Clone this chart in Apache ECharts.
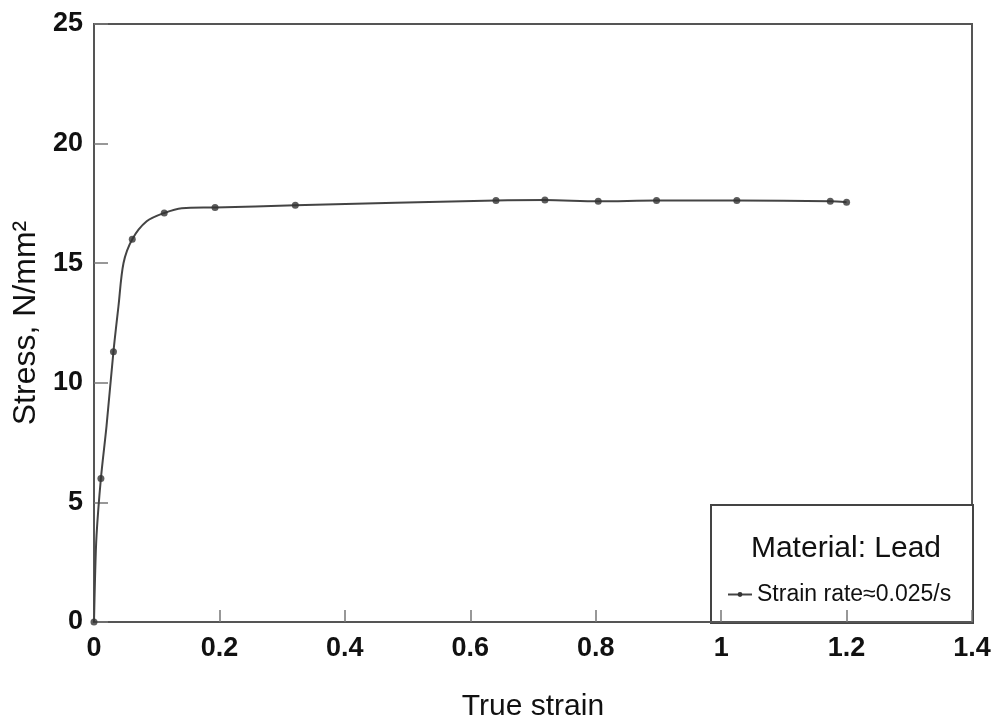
<!DOCTYPE html>
<html>
<head>
<meta charset="utf-8">
<script src="https://cdn.jsdelivr.net/npm/echarts@6/dist/echarts.min.js"></script>
<style>html,body{margin:0;padding:0;background:#fff}#c{width:997px;height:721px}</style>
</head>
<body>
<div id="c"></div>
<script>
// measured points (markers)
var markerStrain = [0, 0.011, 0.031, 0.061, 0.112, 0.193, 0.321, 0.641, 0.719, 0.804, 0.897, 1.025, 1.174, 1.200];
var markerStress = [0, 6.0, 11.3, 16.0, 17.1, 17.33, 17.42, 17.62, 17.64, 17.59, 17.62, 17.62, 17.59, 17.55];
// traced curve (line through the markers)
var curveStrain = [0, 0.0016, 0.004, 0.011, 0.020, 0.031, 0.039, 0.047, 0.061, 0.084, 0.112, 0.14, 0.193, 0.321, 0.641, 0.719, 0.804, 0.897, 1.025, 1.174, 1.200];
var curveStress = [0, 1.8, 3.6, 6.0, 8.2, 11.3, 13.2, 15.0, 16.0, 16.75, 17.1, 17.3, 17.33, 17.42, 17.62, 17.64, 17.59, 17.62, 17.62, 17.59, 17.55];
var xTicks = [0, 0.2, 0.4, 0.6, 0.8, 1, 1.2, 1.4];
var yTicks = [0, 5, 10, 15, 20, 25];
var seriesName = 'Strain rate\u22480.025/s';
var boxTitle = 'Material: Lead';

var chart = echarts.init(document.getElementById('c'), null, {renderer: 'canvas'});
var font = 'Liberation Sans, Arial, Helvetica, sans-serif';
chart.setOption({
  animation: false,
  backgroundColor: '#fff',
  grid: {left: 94, top: 24, right: 25, bottom: 99, show: true, borderColor: '#555', borderWidth: 2,
    outerBoundsMode: 'none', containLabel: false},
  xAxis: {
    type: 'value', min: xTicks[0], max: xTicks[xTicks.length - 1], interval: 0.2,
    name: 'True strain', nameLocation: 'middle', nameGap: 70,
    nameTextStyle: {fontFamily: font, fontSize: 30, color: '#111'},
    axisLine: {show: true, onZero: false, lineStyle: {color: '#555', width: 2}},
    axisTick: {show: true, inside: true, length: 12, lineStyle: {color: '#777', width: 1.5}},
    splitLine: {show: false},
    axisLabel: {fontFamily: font, fontSize: 27, color: '#111', fontWeight: 'bold', margin: 13,
      formatter: function (v) { return String(Math.round(v * 10) / 10); }}
  },
  yAxis: {
    type: 'value', min: yTicks[0], max: yTicks[yTicks.length - 1], interval: 5,
    name: 'Stress, N/mm\u00B2', nameLocation: 'middle', nameGap: 49, nameRotate: 90,
    nameTextStyle: {fontFamily: font, fontSize: 32, color: '#111'},
    axisLine: {show: true, onZero: false, lineStyle: {color: '#555', width: 2}},
    axisTick: {show: true, inside: true, length: 14, lineStyle: {color: '#777', width: 1.5}},
    splitLine: {show: false},
    axisLabel: {fontFamily: font, fontSize: 27, color: '#111', fontWeight: 'bold', margin: 11}
  },
  title: {
    text: boxTitle, left: 841, top: 529, textAlign: 'center',
    textStyle: {fontFamily: font, fontSize: 30, fontWeight: 'normal', color: '#111'}
  },
  legend: {
    left: 722, top: 578, itemWidth: 24, itemHeight: 6, itemGap: 4,
    textStyle: {fontFamily: font, fontSize: 23, color: '#111'},
    data: [{name: seriesName}]
  },
  graphic: [{
    type: 'rect', left: 710, top: 504, z: 0,
    shape: {width: 262, height: 118},
    style: {fill: '#fff', stroke: '#444', lineWidth: 2}
  }],
  series: [
    {
      name: seriesName, type: 'line', smooth: 0.3,
      symbol: 'circle', symbolSize: 5, showSymbol: false,
      lineStyle: {color: '#444', width: 2}, itemStyle: {color: '#333'},
      data: curveStrain.map(function (x, i) { return [x, curveStress[i]]; }),
      z: 3
    },
    {
      name: seriesName, type: 'scatter', symbol: 'circle', symbolSize: 7,
      itemStyle: {color: '#333'},
      data: markerStrain.map(function (x, i) { return [x, markerStress[i]]; }),
      z: 4
    }
  ]
});
</script>
</body>
</html>
